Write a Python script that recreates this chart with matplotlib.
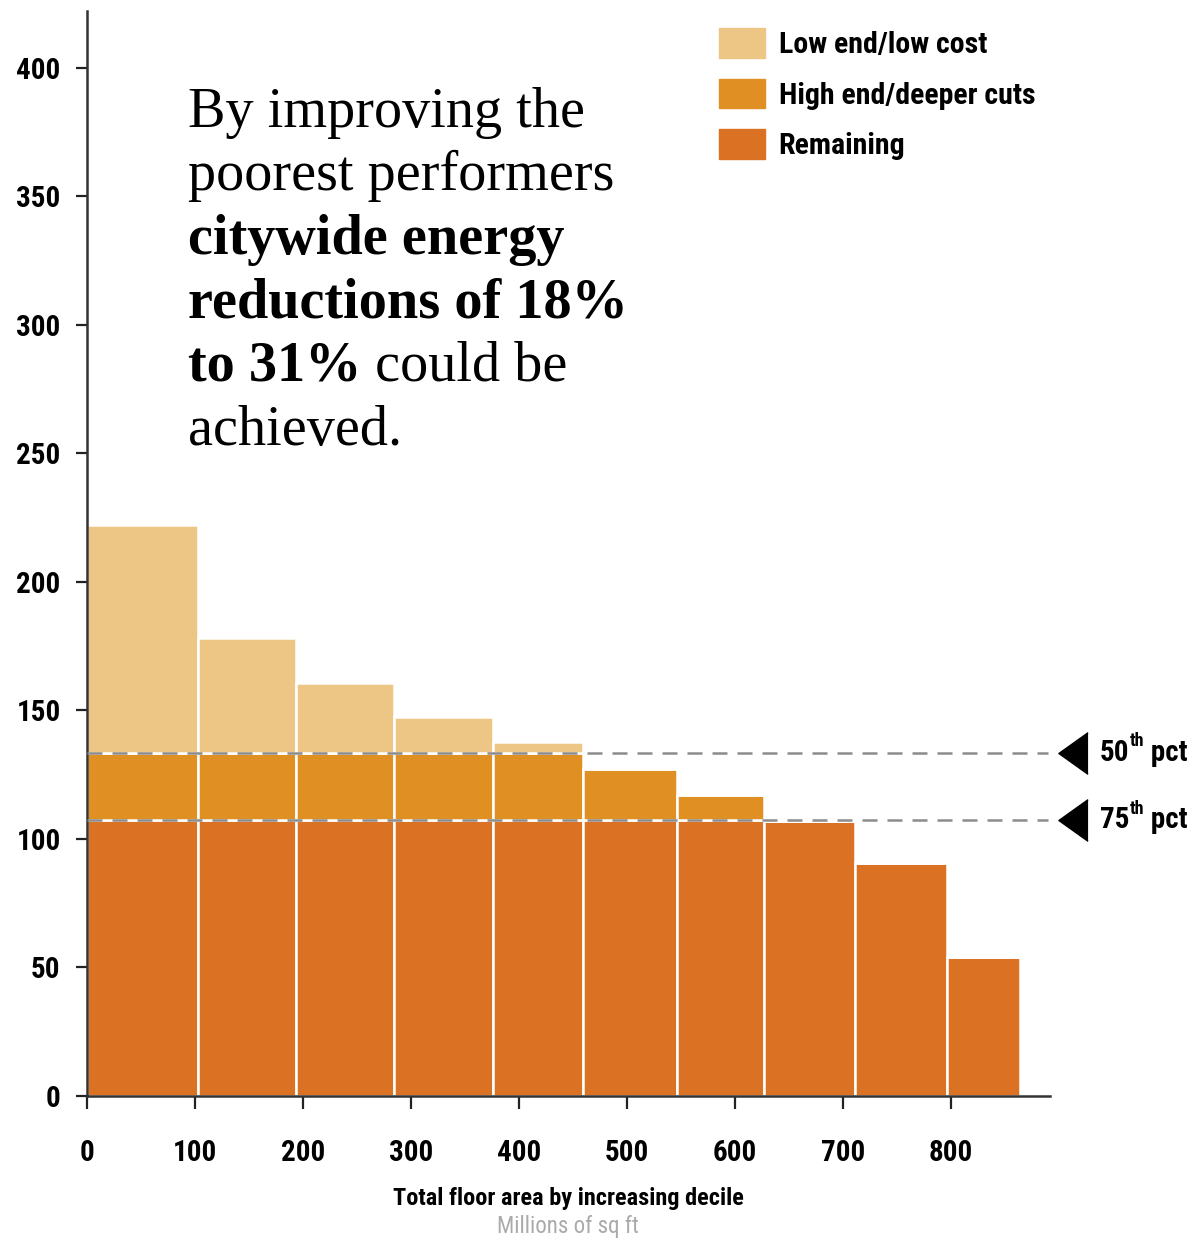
import matplotlib
matplotlib.use('Agg')
import matplotlib.pyplot as plt
from matplotlib import font_manager
from matplotlib.patches import Patch

# Energy use intensity by decile of floor area, with the two percentile targets
edges = [0, 102.6, 193.3, 284.7, 375.5, 459.7, 546.0, 626.6, 711.4, 796.7, 863.5]
totals = [222, 178, 160.5, 147.5, 137.5, 127, 117, 107, 90.5, 54]
pct50 = 133.3
pct75 = 107.2

xticks = [0, 100, 200, 300, 400, 500, 600, 700, 800]
yticks = [0, 50, 100, 150, 200, 250, 300, 350, 400]

series_names = ['Low end/low cost', 'High end/deeper cuts', 'Remaining']
colors = ['#EDC686', '#E09022', '#DA7123']

# pick a narrow sans if one is installed
names = set(f.name for f in font_manager.fontManager.ttflist)
sans = 'DejaVu Sans'
for cand in ['Liberation Sans Narrow', 'DejaVu Sans Condensed', 'Roboto Condensed',
             'Open Sans Condensed']:
    if cand in names:
        sans = cand
        break
serif = 'Liberation Serif'
sfont = dict(family=sans, stretch='condensed')

# split each bar into the three stacked pieces
remaining = [min(t, pct75) for t in totals]
high = [max(min(t, pct50) - pct75, 0) for t in totals]
low = [max(t - pct50, 0) for t in totals]
lefts = edges[:-1]
widths = [b - a for a, b in zip(edges[:-1], edges[1:])]

fig = plt.figure(figsize=(11.97, 12.38), dpi=100)
ax = fig.add_axes([87 / 1197, 1 - 1096 / 1238, (1050 - 87) / 1197, (1096 - 11) / 1238])

kw = dict(align='edge', edgecolor='white', linewidth=1.8)
ax.bar(lefts, remaining, widths, color=colors[2], **kw)
ax.bar(lefts, high, widths, bottom=remaining, color=colors[1], **kw)
ax.bar(lefts, low, widths, bottom=[r + h for r, h in zip(remaining, high)],
       color=colors[0], **kw)

ax.set_xlim(0, 891.7)
ax.set_ylim(0, 422)

# percentile reference lines with pointers outside the axes
for val, lab in [(pct50, '50'), (pct75, '75')]:
    ax.plot([0, 890], [val, val], ls=(0, (6, 4)), color='#8c8c8c', lw=1.8, zorder=3)
    ax.plot([913], [val], marker=[(0.7, 1), (-0.7, 0), (0.7, -1)], ms=30,
            color='black', clip_on=False)
    t1 = ax.text(938, val, lab, fontsize=21, fontweight='bold',
                 va='center', ha='left', clip_on=False, **sfont)
    t2 = ax.annotate('th', xy=(1, 0.6), xycoords=t1, va='bottom', ha='left',
                     fontsize=13, fontweight='bold', annotation_clip=False, **sfont)
    ax.annotate(' pct', xy=(1, 0), xycoords=(t2, t1), va='bottom', ha='left',
                fontsize=21, fontweight='bold', annotation_clip=False, **sfont)

for s in ['top', 'right']:
    ax.spines[s].set_visible(False)
for s in ['left', 'bottom']:
    ax.spines[s].set_linewidth(1.8)
    ax.spines[s].set_color('#333333')

ax.set_xticks(xticks)
ax.set_yticks(yticks)
ax.tick_params(axis='x', length=9, width=1.6, pad=22, labelsize=21, color='#222222')
ax.tick_params(axis='y', length=8, width=1.6, pad=11, labelsize=21, color='#222222')
for t in ax.get_xticklabels() + ax.get_yticklabels():
    t.set_family(sans)
    t.set_stretch('condensed')
    t.set_fontweight('bold')

fig.text(568 / 1197, 1 - 1198 / 1238, 'Total floor area by increasing decile',
         ha='center', va='center', fontsize=17.5, fontweight='bold', **sfont)
fig.text(568 / 1197, 1 - 1226 / 1238, 'Millions of sq ft', ha='center', va='center',
         fontsize=16.5, color='#aaaaaa', **sfont)

leg = ax.legend([Patch(color=c) for c in colors], series_names,
                loc='upper left', bbox_to_anchor=(719 / 1197, 1 - 28 / 1238),
                bbox_transform=fig.transFigure, frameon=False,
                handlelength=1.55, handleheight=1.15, handletextpad=0.45,
                labelspacing=0.66, borderaxespad=0, borderpad=0,
                prop=dict(family=sans, stretch='condensed', weight='bold', size=21.5))

# headline text, partly bold
tx = 188 / 1197
lines = [
    ('By improving the', 'normal'),
    ('poorest performers', 'normal'),
    ('citywide energy', 'bold'),
    ('reductions of 18%', 'bold'),
    ('to 31%', 'bold'),
    ('achieved.', 'normal'),
]
for i, (txt, w) in enumerate(lines):
    t = fig.text(tx, 1 - (127 + 63.5 * i) / 1238, txt, fontsize=40.5, fontweight=w,
                 family=serif, va='baseline', ha='left')
    if i == 4:
        fig.canvas.draw()
        ax.annotate(' could be', xy=(1, 0), xycoords=t, va='bottom', ha='left',
                    fontsize=40.5, family=serif, annotation_clip=False)

fig.savefig('out.png', dpi=100)
